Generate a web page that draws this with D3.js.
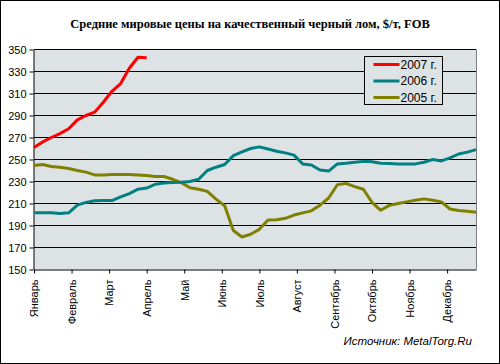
<!DOCTYPE html>
<html>
<head>
<meta charset="utf-8">
<script src="https://cdn.jsdelivr.net/npm/d3@7"></script>
<style>
  body { margin: 0; background: #fff; }
  svg text { font-family: Arial, "Liberation Sans", sans-serif; }
</style>
</head>
<body>
<div id="chart"></div>
<script>
// weekly prices, $/t
var months = ['Январь','Февраль','Март','Апрель','Май','Июнь','Июль','Август','Сентябрь','Октябрь','Ноябрь','Декабрь'];
var yTicks = [150,170,190,210,230,250,270,290,310,330,350];

var prices2007 = [261,266,270,273.5,278,286,290,293,302,312,319,333,343,342.5];

var prices2006 = [201.5,201.5,201.5,201,201.5,208.5,211,212.5,212.7,212.7,
  216,219,223,224,227.5,228.7,229,229.3,230,232,
  240,243,245.5,253.5,257,260,261.5,259.5,257.5,256,
  254,246,245,240.5,239.5,246,246.5,247.5,248.3,248,
  246.6,246.3,246,246,246,247.5,250,248.7,251.5,255,
  256.7,259];

var prices2005 = [244.5,245.5,243.7,243,241.8,240,238.5,236,236,236.4,
  236.4,236.4,236,235.5,234.5,234.5,232,229,224.3,223,
  221,214,208,185.5,179.5,182,186.5,195,195.2,196.5,
  199.5,201.5,203.3,208.5,215,227,228.3,225.3,223,211,
  203.8,208.3,210,211.5,213,214.2,213,211.5,205,203.6,
  203,202];

var series = [
  {name: '2007 г.', values: prices2007, color: '#ff0000'},
  {name: '2006 г.', values: prices2006, color: '#008080'},
  {name: '2005 г.', values: prices2005, color: '#808000'}
];

const WIDTH = 500;
const HEIGHT = 364;
const LEFT = 34, RIGHT = 476, TOP = 49.5, BOTTOM = 269.5;

var xScale = d3.scaleLinear().domain([0, 51]).range([LEFT, RIGHT]);
var yScale = d3.scaleLinear().domain([150, 350]).range([BOTTOM, TOP]);

var svg = d3.select('#chart').append('svg')
  .attr('width', WIDTH)
  .attr('height', HEIGHT);

// outer frame
svg.append('rect')
  .attr('x', 0.5).attr('y', 0.5)
  .attr('width', WIDTH - 1).attr('height', HEIGHT - 1)
  .attr('fill', '#fff').attr('stroke', '#000');

svg.append('text')
  .attr('x', 250).attr('y', 28)
  .attr('text-anchor', 'middle')
  .style('font-family', '"Liberation Serif", "Times New Roman", serif')
  .style('font-weight', 'bold')
  .style('font-size', '12.5px')
  .text('Средние мировые цены на качественный черный лом, $/т, FOB');

// plot area
svg.append('rect')
  .attr('x', LEFT).attr('y', TOP)
  .attr('width', RIGHT - LEFT).attr('height', BOTTOM - TOP)
  .attr('fill', '#dde2e4');

svg.append('path')
  .attr('d', 'M' + LEFT + ',' + TOP + 'H' + (RIGHT + 0.5) + 'V' + BOTTOM)
  .attr('fill', 'none').attr('stroke', '#808080');

svg.append('g').selectAll('line')
  .data(yTicks.slice(1))
  .enter().append('line')
  .attr('x1', LEFT).attr('x2', RIGHT)
  .attr('y1', function(d){ return yScale(d); })
  .attr('y2', function(d){ return yScale(d); })
  .attr('stroke', '#000');

var yAxis = d3.axisLeft(yScale).tickValues(yTicks).tickSize(4).tickSizeOuter(0).tickPadding(3);
var gy = svg.append('g')
  .attr('transform', 'translate(' + (LEFT - 0.5) + ',0)')
  .call(yAxis);
gy.select('.domain').attr('stroke', '#000');
gy.selectAll('text').style('font-size', '11px').attr('fill', '#000');

var monthPos = months.map(function(m, i){ return i * 52 / 12; });
var xAxis = d3.axisBottom(xScale).tickValues(monthPos)
  .tickFormat(function(d, i){ return months[i]; })
  .tickSize(4).tickSizeOuter(0);
var gx = svg.append('g')
  .attr('transform', 'translate(0,' + BOTTOM + ')')
  .call(xAxis);
gx.select('.domain').attr('stroke', '#000');
gx.selectAll('text')
  .style('font-size', '11px')
  .attr('fill', '#000')
  .attr('text-anchor', 'end')
  .attr('transform', 'rotate(-90)')
  .attr('x', -10).attr('y', 0).attr('dy', '0.35em');

var line = d3.line()
  .x(function(d, i){ return xScale(i); })
  .y(function(d){ return yScale(d); });

svg.append('g').selectAll('path')
  .data(series.slice().reverse())
  .enter().append('path')
  .attr('d', function(s){ return line(s.values); })
  .attr('fill', 'none')
  .attr('stroke', function(s){ return s.color; })
  .attr('stroke-width', 3)
  .attr('stroke-linejoin', 'round');

// legend
var legend = svg.append('g').attr('transform', 'translate(364.5,56.5)');
legend.append('rect')
  .attr('width', 78).attr('height', 48)
  .attr('fill', '#dde2e4').attr('stroke', '#000');
var items = legend.selectAll('.item').data(series).enter().append('g')
  .attr('transform', function(d, i){ return 'translate(0,' + (8 + i * 16.5) + ')'; });
items.append('line')
  .attr('x1', 9).attr('x2', 35)
  .attr('stroke', function(d){ return d.color; })
  .attr('stroke-width', 3);
items.append('text')
  .attr('x', 36).attr('dy', '0.37em')
  .style('font-size', '12px')
  .text(function(d){ return d.name; });

svg.append('text')
  .attr('x', 472).attr('y', 345)
  .attr('text-anchor', 'end')
  .style('font-size', '11.5px')
  .style('font-style', 'italic')
  .text('Источник: MetalTorg.Ru');
</script>
</body>
</html>
